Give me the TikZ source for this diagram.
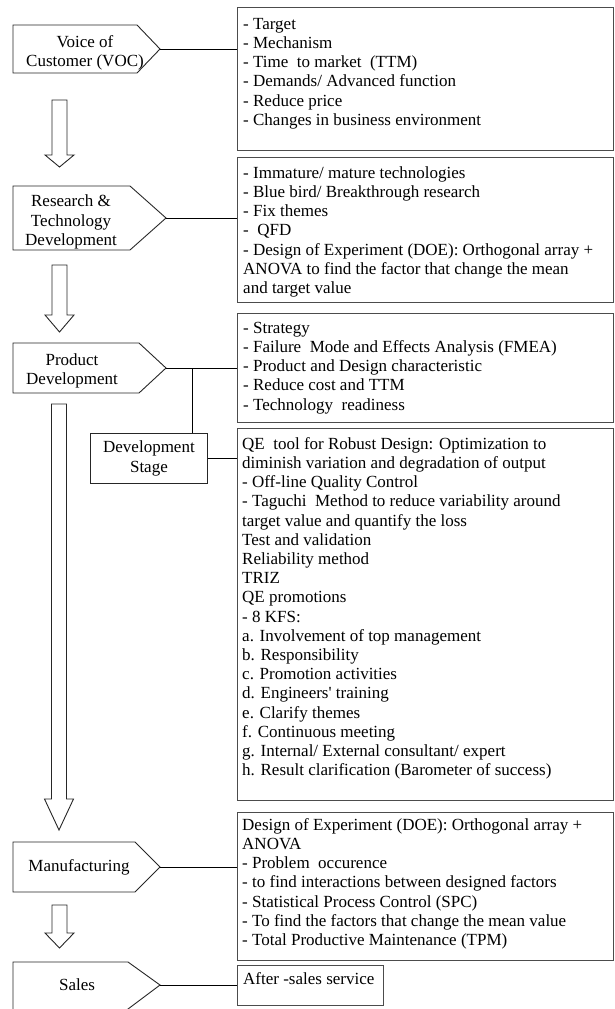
\documentclass[tikz,border=0pt]{standalone}
\usepackage{fontspec}
\setmainfont{Liberation Serif}
\tikzset{
  frame/.style={draw=black!70, line width=1.1pt, inner sep=0pt, anchor=north west},
  stage/.style={draw=black!85, line width=0.9pt},
  link/.style={draw=black, line width=0.8pt},
  flow/.style={draw=black!85, line width=0.9pt, fill=white},
  body/.style={anchor=north west, inner sep=0pt, align=left, font=\fontsize{17}{19.2}\selectfont},
  label/.style={inner sep=0pt, align=center, font=\fontsize{17}{19.5}\selectfont}
}
% hollow block arrow: centre x, shaft top, head base, tip
\newcommand\flowarrow[4]{%
  \draw[flow] ({#1-7.5},#2) -- ({#1+7.5},#2) -- ({#1+7.5},#3) -- ({#1+14.5},#3)
    -- (#1,#4) -- ({#1-14.5},#3) -- ({#1-7.5},#3) -- cycle;}
% pentagon stage outline: left, top, bottom, slant start, tip x
\newcommand\stageshape[5]{%
  \draw[stage] (#1,#2) -- (#4,#2) -- (#5,{(#2+#3)/2}) -- (#4,#3) -- (#1,#3) -- cycle;}
\newcommand\fl{\rule{0pt}{14pt}}
\begin{document}
\begin{tikzpicture}[x=1pt,y=-1pt]
\useasboundingbox (0,0) rectangle (615,1009);
\clip (0,0) rectangle (615,1009);

% stages on the left
\stageshape{13}{25}{73}{137}{160}
\coordinate (vocTip) at (160,49);
\node[label] (voc) at (85,53) {Voice of\\Customer (VOC)};

\stageshape{13}{186}{250}{130}{166}
\coordinate (rtdTip) at (166,218);
\node[label] (rtd) at (71,222) {Research \&\\Technology\\Development};

\stageshape{13}{343}{393}{139}{166}
\coordinate (pdTip) at (166,368);
\node[label] (pd) at (72,371) {Product\\Development};

\stageshape{13}{842}{892}{135}{160}
\coordinate (mfgTip) at (160,867);
\node[label] (mfg) at (79,867) {Manufacturing};

\draw[stage] (13,962) -- (128,962) -- (160,985) -- (124,1012) -- (13,1012) -- cycle;
\coordinate (salesTip) at (160,985);
\node[label] (sales) at (77,985) {Sales};

% flow arrows between stages
\flowarrow{59.5}{100}{155}{167}
\flowarrow{59.5}{265}{315}{332}
\flowarrow{59}{404}{799}{830}
\flowarrow{59.5}{905}{933}{948}

% detail boxes on the right
\node[frame, minimum width=376pt, minimum height=143pt] (b1) at (237,7) {};
\node[frame, minimum width=376pt, minimum height=145pt] (b2) at (237,157) {};
\node[frame, minimum width=376pt, minimum height=109pt] (b3) at (237,313) {};
\node[frame, minimum width=376pt, minimum height=372pt] (b4) at (237,428) {};
\node[frame, minimum width=376pt, minimum height=148pt] (b5) at (237,812) {};
\node[frame, minimum width=146pt, minimum height=40pt] (b6) at (237,965) {};

\node[stage, label, anchor=north west, minimum width=117pt, minimum height=50pt] (dev) at (90,433) {Development\\Stage};

\node[body] (t1) at (243,15) {\fl- Target\\- Mechanism\\- Time\ \ to market\ \ (TTM)\\- Demands/ Advanced function\\- Reduce price\\- Changes in business environment};
\node[body] (t2) at (243,164) {\fl- Immature/ mature technologies\\- Blue bird/ Breakthrough research\\- Fix themes\\-\ \ QFD\\- Design of Experiment (DOE): Orthogonal array +\\ANOVA to find the factor that change the mean\\and target value};
\node[body] (t3) at (243,319) {\fl- Strategy\\- Failure\ \ Mode and Effects Analysis (FMEA)\\- Product and Design characteristic\\- Reduce cost and TTM\\- Technology\ \ readiness};
\node[body] (t4) at (242,435) {\fl QE\ \ tool for Robust Design: Optimization to\\diminish variation and degradation of output\\- Off-line Quality Control\\- Taguchi\ \ Method to reduce variability around\\target value and quantify the loss\\Test and validation\\Reliability method\\TRIZ\\QE promotions\\- 8 KFS:\\a. Involvement of top management\\b. Responsibility\\c. Promotion activities\\d. Engineers\textquotesingle\ training\\e. Clarify themes\\f. Continuous meeting\\g. Internal/ External consultant/ expert\\h. Result clarification (Barometer of success)};
\node[body] (t5) at (242,816) {\fl Design of Experiment (DOE): Orthogonal array +\\ANOVA\\- Problem\ \ occurence\\- to find interactions between designed factors\\- Statistical Process Control (SPC)\\- To find the factors that change the mean value\\- Total Productive Maintenance (TPM)};
\node[body] (t6) at (243,970) {\fl After -sales service};

% connectors from stages to their detail boxes
\draw[link] (vocTip) -- (vocTip -| b1.west);
\draw[link] (rtdTip) -- (rtdTip -| b2.west);
\draw[link] (pdTip) -- (pdTip -| b3.west);
\coordinate (pdJoin) at (192,368);
\draw[link] (pdJoin) -- (pdJoin |- dev.north);
\draw[link] (dev.east) -- (dev.east -| b4.west);
\draw[link] (mfgTip) -- (mfgTip -| b5.west);
\draw[link] (salesTip) -- (salesTip -| b6.west);
\end{tikzpicture}
\end{document}
